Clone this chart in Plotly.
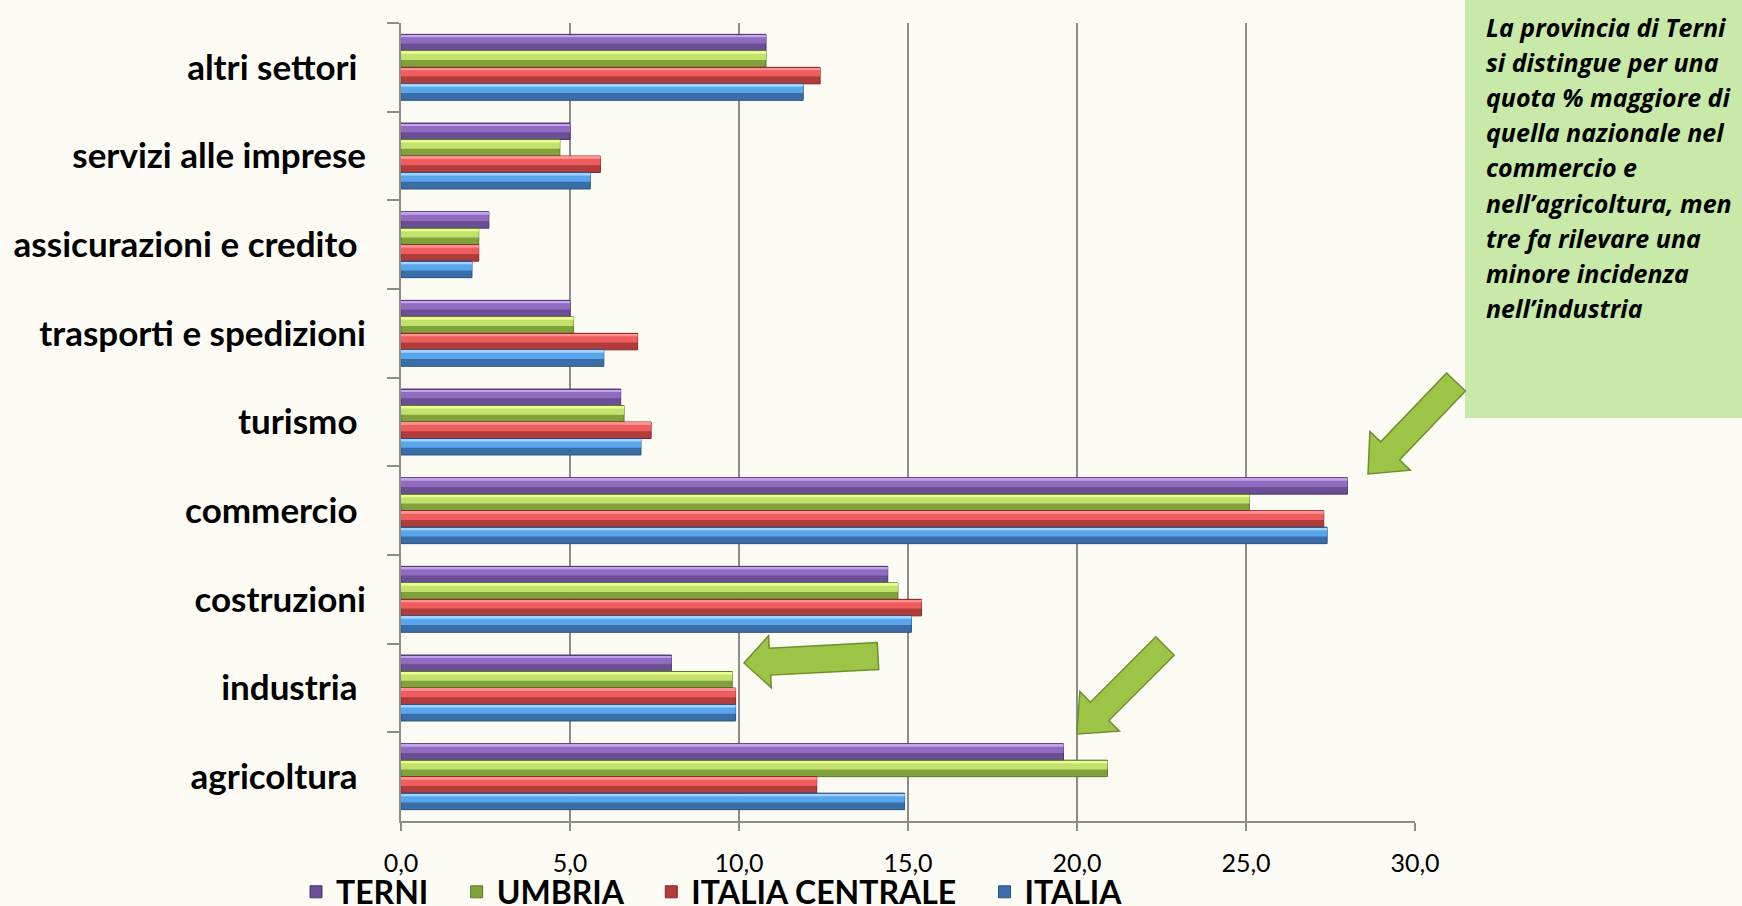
import plotly.graph_objects as go

# ---------------- data ----------------
categories = [
    "altri settori\u00a0",
    "servizi alle imprese",
    "assicurazioni e credito\u00a0",
    "trasporti e spedizioni",
    "turismo\u00a0",
    "commercio\u00a0",
    "costruzioni",
    "industria\u00a0",
    "agricoltura\u00a0",
]
series_names = ["TERNI", "UMBRIA", "ITALIA CENTRALE", "ITALIA"]
terni = [10.8, 5.0, 2.6, 5.0, 6.5, 28.0, 14.4, 8.0, 19.6]
umbria = [10.8, 4.7, 2.3, 5.1, 6.6, 25.1, 14.7, 9.8, 20.9]
italia_centrale = [12.4, 5.9, 2.3, 7.0, 7.4, 27.3, 15.4, 9.9, 12.3]
italia = [11.9, 5.6, 2.1, 6.0, 7.1, 27.4, 15.1, 9.9, 14.9]
x_tick_values = [0, 5, 10, 15, 20, 25, 30]
note_lines = [
    "La provincia di Terni",
    "si distingue per una",
    "quota % maggiore di",
    "quella nazionale nel",
    "commercio e",
    "nell\u2019agricoltura, men",
    "tre fa rilevare una",
    "minore incidenza",
    "nell\u2019industria",
]

# ---------------- style ----------------
W, H = 1742, 906
L, R, T, B = 401, 1742 - 1415, 23, 906 - 821
PW, PH = W - L - R, H - T - B
BG = "#fdfcf4"
FONT = "Lato"
# (lower body, upper highlight, top strip, outline)
palettes = [
    ("#6c4e94", "#8f6cc0", "#c4a2ee", "#4b3768"),
    ("#7fa23c", "#c2e26c", "#eaff96", "#5a7a28"),
    ("#b03c3c", "#ee5e5e", "#ff9090", "#842828"),
    ("#3a6ea8", "#5aa6ec", "#a2d4ff", "#2a5080"),
]
values = [terni, umbria, italia_centrale, italia]
bw = 0.186

fig = go.Figure()
for k, (name, vals, pal) in enumerate(zip(series_names, values, palettes)):
    off = -2 * bw + k * bw
    fig.add_trace(go.Bar(
        x=vals, y=categories, orientation="h", name=name + "\u00a0" * 3,
        width=bw, offset=off,
        marker=dict(color=pal[0], line=dict(color=pal[3], width=1)),
    ))
    fig.add_trace(go.Bar(
        x=vals, y=categories, orientation="h", showlegend=False, hoverinfo="skip",
        width=bw * 0.5, offset=off + bw * 0.06,
        marker=dict(color=pal[1], line=dict(width=0)),
    ))
    fig.add_trace(go.Bar(
        x=vals, y=categories, orientation="h", showlegend=False, hoverinfo="skip",
        width=bw * 0.12, offset=off + bw * 0.06,
        marker=dict(color=pal[2], line=dict(width=0)),
    ))


def px2paper(px, py):
    return (px - L) / PW, (H - B - py) / PH


def arrow_path(tail, tip, shaft, head_w, head_len):
    import math
    tx, ty = tail
    hx, hy = tip
    dx, dy = hx - tx, hy - ty
    d = math.hypot(dx, dy)
    ux, uy = dx / d, dy / d
    nx, ny = -uy, ux
    bx, by = hx - ux * head_len, hy - uy * head_len
    pts = [
        (tx + nx * shaft / 2, ty + ny * shaft / 2),
        (bx + nx * shaft / 2, by + ny * shaft / 2),
        (bx + nx * head_w / 2, by + ny * head_w / 2),
        (hx, hy),
        (bx - nx * head_w / 2, by - ny * head_w / 2),
        (bx - nx * shaft / 2, by - ny * shaft / 2),
        (tx - nx * shaft / 2, ty - ny * shaft / 2),
    ]
    pp = [px2paper(*p) for p in pts]
    return "M " + " L ".join(f"{a:.5f},{b:.5f}" for a, b in pp) + " Z"


shapes = []
# note box
x0, y1 = px2paper(1465, 0)
x1, y0 = px2paper(1760, 418)
shapes.append(dict(type="rect", xref="paper", yref="paper", x0=x0, x1=x1, y0=y0, y1=y1,
                   fillcolor="#c8e9a8", line=dict(width=0), layer="below"))
# arrows
for tail, tip, sw, hw, hl in [
    ((1456, 382), (1368, 474), 26, 56, 32),
    ((878, 656), (744, 663), 27, 52, 26),
    ((1165, 646), (1077, 734), 26, 56, 32),
]:
    shapes.append(dict(type="path", xref="paper", yref="paper",
                       path=arrow_path(tail, tip, sw, hw, hl),
                       fillcolor="#9cc447", line=dict(color="#6f8f2c", width=1.5)))

annotations = []
for i, line in enumerate(note_lines):
    ax, ay = px2paper(1484, 27 + i * 35.1)
    annotations.append(dict(
        xref="paper", yref="paper", x=ax, y=ay, xanchor="left", yanchor="middle",
        align="left", showarrow=False,
        text=f"<b><i>{line}</i></b>",
        font=dict(family="Open Sans", size=25, color="#000000"),
    ))

lx, ly = px2paper(296, 892)

fig.update_layout(
    width=W, height=H,
    margin=dict(l=L, r=R, t=T, b=B, pad=0, autoexpand=False),
    paper_bgcolor=BG, plot_bgcolor=BG,
    barmode="overlay",
    separators=",.",
    showlegend=True,
    legend=dict(orientation="h", x=lx, y=ly, xanchor="left", yanchor="middle",
                font=dict(family=FONT, size=32, color="#000000", weight="bold"),
                bgcolor="rgba(0,0,0,0)", itemwidth=30),
    xaxis=dict(range=[0, 30], tickvals=x_tick_values, tickformat=".1f",
               showgrid=True, gridcolor="#8c8c8c", gridwidth=1.5,
               showline=True, linecolor="#8c8c8c", linewidth=2,
               ticks="outside", ticklen=8, tickcolor="#8c8c8c", tickwidth=1.5,
               tickfont=dict(family=FONT, size=25, color="#000000"),
               ticklabelstandoff=11, zeroline=False, fixedrange=True),
    yaxis=dict(range=[8.5, -0.5], type="category", tickson="boundaries",
               showline=True, linecolor="#8c8c8c", linewidth=2,
               ticks="outside", ticklen=12, tickcolor="#8c8c8c", tickwidth=1.5,
               showgrid=False,
               tickfont=dict(family=FONT, size=35, color="#000000", weight="bold"),
               ticklabelstandoff=26, fixedrange=True),
    shapes=shapes,
    annotations=annotations,
    font=dict(family=FONT),
)

fig.write_html("out.html", config={"displayModeBar": False},
               post_script="document.body.style.margin='0';document.body.style.overflow='hidden';")
